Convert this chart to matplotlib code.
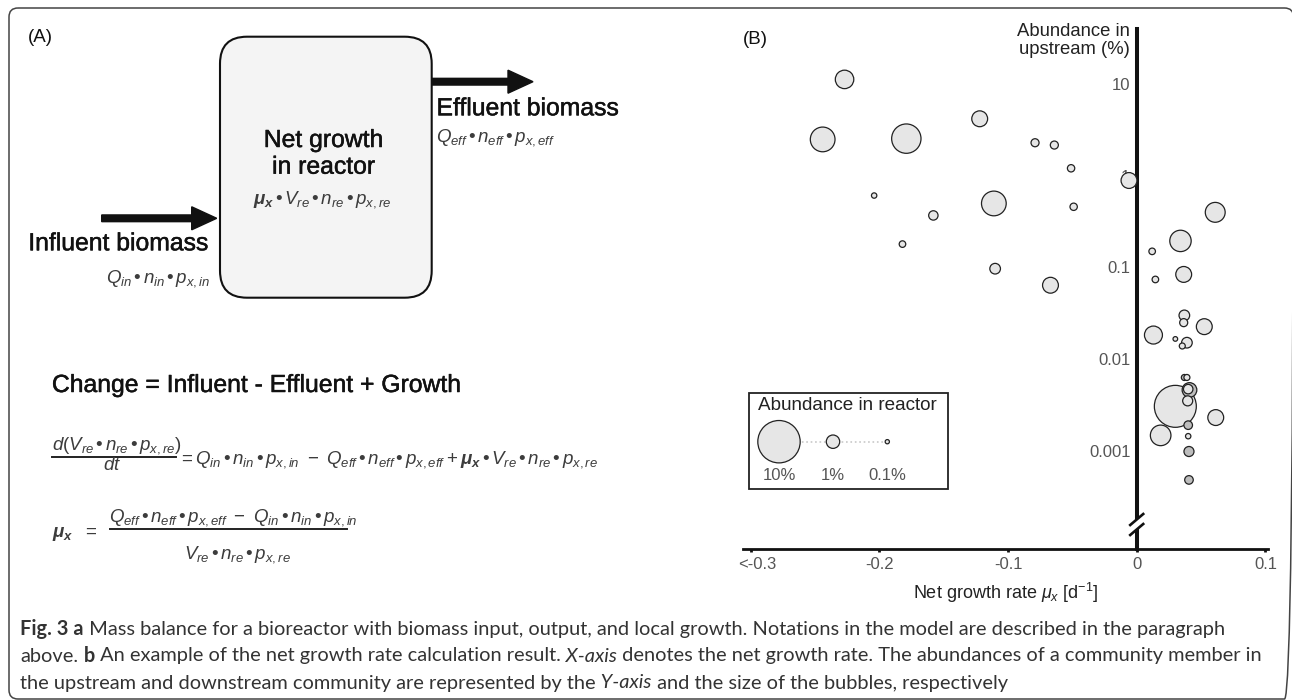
import matplotlib
matplotlib.use("Agg")
import matplotlib.pyplot as plt
import numpy as np
from matplotlib.patches import FancyBboxPatch, FancyArrow, Rectangle, Polygon
import matplotlib.patheffects as pe
import matplotlib.transforms as mtransforms

plt.rcParams["font.family"] = ["Liberation Sans", "DejaVu Sans"]
plt.rcParams["mathtext.fontset"] = "custom"
plt.rcParams["mathtext.rm"] = "Liberation Sans"
plt.rcParams["mathtext.it"] = "Liberation Sans:italic"
plt.rcParams["mathtext.bf"] = "Liberation Sans:italic:bold"

# ---- panel B: one bubble per community member ----
growth_rate = [-0.227, -0.244, -0.179, -0.122, -0.079, -0.064, -0.051, -0.006,
               -0.204, -0.111, -0.049, -0.158, 0.061, 0.034, -0.182, 0.012,
               -0.110, -0.067, 0.0145, 0.0365, 0.037, 0.0365, 0.0525, 0.013,
               0.030, 0.039, 0.0354, 0.037, 0.039, 0.041, 0.040, 0.030,
               0.0396, 0.0614, 0.040, 0.0186, 0.040, 0.0406, 0.0406]
upstream_abund = [11.3, 2.5, 2.55, 4.2, 2.3, 2.17, 1.21, 0.89,
                  0.61, 0.50, 0.46, 0.37, 0.40, 0.195, 0.18, 0.15,
                  0.097, 0.064, 0.074, 0.084, 0.030, 0.025, 0.0226, 0.0183,
                  0.0166, 0.0151, 0.0139, 0.0063, 0.0063, 0.0046, 0.0047, 0.00305,
                  0.0035, 0.0023, 0.0019, 0.00147, 0.00144, 0.00098, 0.00048]
reactor_abund = [1.9, 3.4, 4.8, 1.4, 0.36, 0.36, 0.30, 1.4,
                 0.16, 3.4, 0.30, 0.49, 2.2, 2.55, 0.24, 0.24,
                 0.63, 1.4, 0.24, 1.4, 0.63, 0.36, 1.4, 1.8,
                 0.12, 0.63, 0.20, 0.20, 0.20, 1.2, 0.5, 9.8,
                 0.56, 1.4, 0.41, 2.36, 0.16, 0.56, 0.41]
stacked = [False] * 27 + [True, False, True, False, False,
                          False, False, True, False, False, True, True]

legend_abund = [10, 1, 0.1]
legend_labels = ["10%", "1%", "0.1%"]

x_ticks = [-0.3, -0.2, -0.1, 0, 0.1]
x_tick_labels = ["<-0.3", "-0.2", "-0.1", "0", "0.1"]
y_ticks = [10, 1, 0.1, 0.01, 0.001]
y_tick_labels = ["10", "1", "0.1", "0.01", "0.001"]

caption_lines = [
    [("Fig. 3 a", "bold", "normal"),
     (" Mass balance for a bioreactor with biomass input, output, and local growth. "
      "Notations in the model are described in the paragraph", "normal", "normal")],
    [("above.", "normal", "normal"), (" b", "bold", "normal"),
     (" An example of the net growth rate calculation result.", "normal", "normal"),
     (" X-axis", "normal", "italic"),
     (" denotes the net growth rate. The abundances of a community member in", "normal", "normal")],
    [("the upstream and downstream community are represented by the", "normal", "normal"),
     (" Y-axis", "normal", "italic"),
     (" and the size of the bubbles, respectively", "normal", "normal")],
]

MATH_GRAY = "#3c3c3c"
DOT = r"\,•\,"
MEDIUM = [pe.withStroke(linewidth=0.35, foreground="#111111")]


def bubble_size(pct):
    # marker area proportional to abundance in the reactor
    return 93.1 * np.asarray(pct, dtype=float)


def label(ax, x, y, s, **kw):
    kw.setdefault("color", "#111111")
    return ax.text(x, y, s, path_effects=MEDIUM, **kw)


fig = plt.figure(figsize=(12.92, 7), dpi=100)
bg = fig.add_axes([0, 0, 1, 1])
bg.set_xlim(0, 1292)
bg.set_ylim(700, 0)
bg.axis("off")

# outer frame
bg.add_patch(FancyBboxPatch((9, 8), 1284.5, 691, boxstyle="round,pad=0,rounding_size=9",
                            facecolor="none", edgecolor="#444444", linewidth=1.1))

# ---------------- panel A ----------------
bg.text(28, 37, "(A)", fontsize=13.5, color="#111111", va="center", ha="left")
bg.add_patch(FancyBboxPatch((220, 36.7), 211.7, 261, boxstyle="round,pad=0,rounding_size=27",
                            facecolor="#f4f4f4", edgecolor="#111111", linewidth=1.5))
label(bg, 323.5, 140, "Net growth", fontsize=17.8, ha="center", va="center")
label(bg, 323.5, 166.7, "in reactor", fontsize=17.8, ha="center", va="center")
bg.text(322.5, 203, rf"$\mathbf{{\mu_x}}{DOT}V_{{re}}{DOT}n_{{re}}{DOT}p_{{x,re}}$",
        fontsize=13.5, ha="center", va="baseline", color=MATH_GRAY)

bg.add_patch(FancyArrow(101.7, 218.3, 115, 0, width=6.7, head_width=23, head_length=25,
                        length_includes_head=True, color="#111111"))
bg.add_patch(FancyArrow(431.7, 81.7, 101.3, 0, width=6.7, head_width=23, head_length=25,
                        length_includes_head=True, color="#111111"))

label(bg, 28.3, 243.3, "Influent biomass", fontsize=17.8, ha="left", va="center")
bg.text(210.7, 282.5, rf"$Q_{{in}}{DOT}n_{{in}}{DOT}p_{{x,in}}$",
        fontsize=13.5, ha="right", va="baseline", color=MATH_GRAY)
label(bg, 436.5, 108.3, "Effluent biomass", fontsize=17.8, ha="left", va="center")
bg.text(436.5, 141.7, rf"$Q_{{eff}}{DOT}n_{{eff}}{DOT}p_{{x,eff}}$",
        fontsize=13.5, ha="left", va="baseline", color=MATH_GRAY)

label(bg, 51.9, 385, "Change = Influent - Effluent + Growth", fontsize=17.8, ha="left",
      va="center")

# first balance equation
bg.text(51.9, 449.3, rf"$d(V_{{re}}{DOT}n_{{re}}{DOT}p_{{x,re}})$", fontsize=13.5,
        ha="left", va="baseline", color=MATH_GRAY)
bg.plot([51.9, 176], [457.3, 457.3], color="#222222", linewidth=1.4)
bg.text(111.7, 470.5, r"$dt$", fontsize=13.5, ha="center", va="baseline", color=MATH_GRAY)
bg.text(178, 464, rf"$= Q_{{in}}{DOT}n_{{in}}{DOT}p_{{x,in}}\ -\ Q_{{eff}}{DOT}n_{{eff}}{DOT}p_{{x,eff}}"
                  rf" + \mathbf{{\mu_x}}{DOT}V_{{re}}{DOT}n_{{re}}{DOT}p_{{x,re}}$",
        fontsize=13.5, ha="left", va="baseline", color=MATH_GRAY)

# solved for the growth rate
bg.text(51.9, 536.7, r"$\mathbf{\mu_x}\ \ =$", fontsize=13.5, ha="left", va="baseline", color=MATH_GRAY)
bg.text(109.3, 521.7, rf"$Q_{{eff}}{DOT}n_{{eff}}{DOT}p_{{x,eff}}\ -\ Q_{{in}}{DOT}n_{{in}}{DOT}p_{{x,in}}$",
        fontsize=13.5, ha="left", va="baseline", color=MATH_GRAY)
bg.plot([110, 346.7], [529.3, 529.3], color="#222222", linewidth=1.4)
bg.text(237.5, 558.3, rf"$V_{{re}}{DOT}n_{{re}}{DOT}p_{{x,re}}$", fontsize=13.5,
        ha="center", va="baseline", color=MATH_GRAY)

# ---------------- panel B ----------------
ax = fig.add_axes([743 / 1292, (700 - 549) / 700, 525 / 1292, 519.7 / 700])
ax.patch.set_alpha(0)
ax.set_yscale("log")
ax.set_xlim(-0.3059, 0.1020)
ax.set_ylim(10 ** -4.073, 10 ** 1.6)

for spine in ("top", "right"):
    ax.spines[spine].set_visible(False)
ax.spines["left"].set_position(("data", 0))
ax.spines["left"].set_linewidth(2.9)
ax.spines["bottom"].set_linewidth(2.0)
ax.spines["left"].set_color("#111111")
ax.spines["bottom"].set_color("#111111")

ax.set_xticks(x_ticks)
ax.set_xticklabels(x_tick_labels)
ax.set_yticks(y_ticks)
ax.set_yticklabels(y_tick_labels)
ax.yaxis.set_minor_locator(matplotlib.ticker.NullLocator())
ax.tick_params(axis="y", length=0, pad=4.5, labelsize=12, labelcolor="#555555")
ax.tick_params(axis="x", length=2, width=2, color="#111111", pad=4, labelsize=12,
               labelcolor="#555555")
first = ax.get_xticklabels()[0]
first.set_transform(first.get_transform() + mtransforms.ScaledTranslation(5 / 72, 0, fig.dpi_scale_trans))

colors = ["#bdbdbd" if s else "#e6e6e6" for s in stacked]
order = np.argsort(reactor_abund)[::-1]
ax.scatter(np.array(growth_rate)[order], np.array(upstream_abund)[order],
           s=bubble_size(reactor_abund)[order], c=np.array(colors)[order],
           edgecolors="#222222", linewidths=0.9, zorder=3)

# axis break on the y axis
sx, _ = bg.transData.inverted().transform(ax.transData.transform((0, 10 ** -3.8)))
sy = 524.5
dx, dy = 6.5, -5.5
gap = 5
ax.add_patch(Polygon([(sx - dx, sy - gap - dy), (sx + dx, sy - gap + dy),
                      (sx + dx, sy + gap + dy), (sx - dx, sy + gap - dy)],
                     closed=True, facecolor="white", edgecolor="none",
                     transform=bg.transData, clip_on=False, zorder=5))
for off in (-gap, gap):
    ax.plot([sx - dx, sx + dx], [sy + off - dy, sy + off + dy], color="#111111",
            linewidth=1.9, transform=bg.transData, clip_on=False, zorder=6)

bg.text(743.3, 39.3, "(B)", fontsize=13.5, color="#111111", va="center", ha="left")
bg.text(1130, 23, "Abundance in\nupstream (%)", fontsize=13.3, color="#222222",
        ha="right", va="top", linespacing=1.1)
bg.text(1006, 592.7, r"Net growth rate $\mu_x$ [d$^{-1}$]", fontsize=13,
        color="#222222", ha="center", va="center")

# bubble size legend
bg.add_patch(Rectangle((749.3, 393.3), 199, 95.7, facecolor="white", edgecolor="#222222",
                       linewidth=1.3))
bg.text(758.3, 406, "Abundance in reactor", fontsize=13.6, color="#222222", ha="left", va="center")
legend_x = [779, 833, 887.3]
bg.plot([793, 885], [441.7, 441.7], color="#c8c8c8", linestyle=":", linewidth=1.2, zorder=2)
bg.scatter(legend_x, [441.7] * 3, s=bubble_size(legend_abund), c="#e6e6e6",
           edgecolors="#222222", linewidths=0.9, zorder=3)
for lx, lab in zip(legend_x, legend_labels):
    bg.text(lx, 475, lab, fontsize=12, color="#555555", ha="center", va="center")

# ---------------- caption ----------------
renderer = fig.canvas.get_renderer()
CAP_FONT = ["Lato", "DejaVu Sans"]
probe = bg.text(0, 0, "".join(r[0] for r in caption_lines[0]), fontsize=10, family=CAP_FONT)
cap_size = 10 * (1207 / probe.get_window_extent(renderer).width)
probe.remove()
for line, y in zip(caption_lines, [629, 656, 683]):
    x = 20.5
    for text, weight, style in line:
        t = bg.text(x, y, text, fontsize=cap_size, fontweight=weight, fontstyle=style,
                    family=CAP_FONT, color="#333333", ha="left", va="center")
        x += t.get_window_extent(renderer).width

fig.savefig("out.png", dpi=100)
